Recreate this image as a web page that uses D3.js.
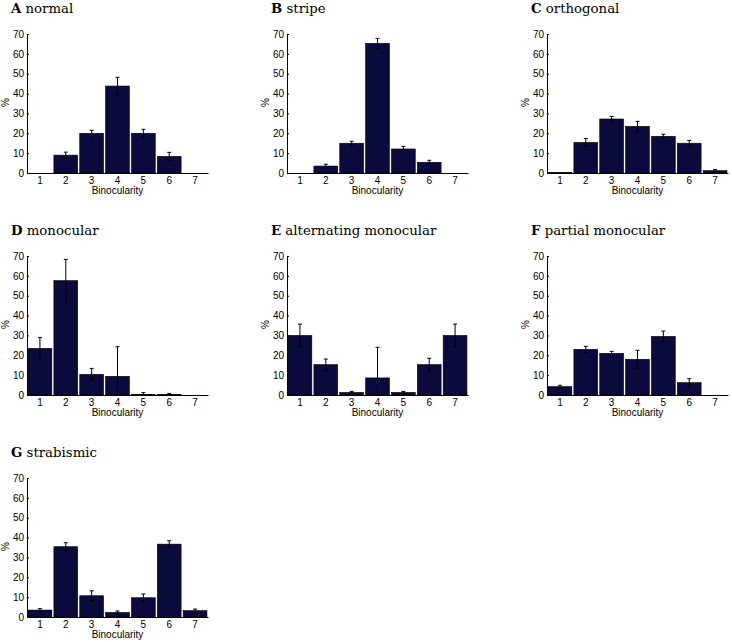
<!DOCTYPE html>
<html><head><meta charset="utf-8">
<script src="https://cdn.jsdelivr.net/npm/d3@7/dist/d3.min.js"></script>
<style>body{margin:0;background:#fff}svg{display:block}</style>
</head><body><svg id="c" width="732" height="642"></svg>
<script>
const categories = [1,2,3,4,5,6,7];
const yTicks = [0,10,20,30,40,50,60,70];
const panelLetters = ["A","B","C","D","E","F","G"];
const panelNames = ["normal","stripe","orthogonal","monocular","alternating monocular","partial monocular","strabismic"];
const valuesA = [0, 9, 20, 43.8, 20, 8.4, 0];
const errorsA = [0, 1.5, 1.5, 4.4, 2, 2, 0];
const valuesB = [0, 3.5, 15, 65.3, 12.1, 5.4, 0];
const errorsB = [0, 0.9, 1, 2.5, 1.3, 1, 0];
const valuesC = [0.2, 15.4, 27.2, 23.5, 18.5, 15, 1.2];
const errorsC = [0, 2, 1.3, 2.5, 1, 1.4, 0.5];
const valuesD = [23.5, 57.6, 10.4, 9.4, 0.3, 0.2, 0];
const errorsD = [5.4, 10.7, 3, 14.9, 0.9, 0.5, 0];
const valuesE = [30, 15.3, 1.3, 8.6, 1.3, 15.3, 30];
const errorsE = [5.7, 2.8, 0.5, 15.4, 0.5, 3.2, 5.7];
const valuesF = [4.2, 23, 21, 18, 29.5, 6.2, 0];
const errorsF = [0.7, 1.5, 1, 4.5, 2.7, 2, 0];
const valuesG = [3.5, 35.4, 10.7, 2.3, 9.7, 36.7, 3.2];
const errorsG = [0.7, 2, 2.5, 0.7, 1.9, 1.7, 0.8];
const allValues = [valuesA,valuesB,valuesC,valuesD,valuesE,valuesF,valuesG];
const allErrors = [errorsA,errorsB,errorsC,errorsD,errorsE,errorsF,errorsG];

const svg = d3.select("#c");
const W = 181, H = 139;
const sans = "'Liberation Sans', Arial, sans-serif";
const serif = "'DejaVu Serif', serif";
const barColor = "#0a0a3c";

panelNames.forEach((name, i) => {
  const col = i % 3, row = Math.floor(i / 3);
  const ox = 27 + col * 260, oy = 34 + row * 222;
  const g = svg.append("g").attr("transform", `translate(${ox},${oy})`);
  const x = d3.scaleBand().domain(categories).range([0, W]).paddingInner(0.08).paddingOuter(0.04);
  const y = d3.scaleLinear().domain([0, 70]).range([H, 0]);
  const vals = allValues[i], errs = allErrors[i];
  const data = categories.map((c, k) => ({c, v: vals[k], e: errs[k]}));

  g.selectAll("rect.bar").data(data).enter().append("rect")
    .attr("x", d => x(d.c)).attr("width", x.bandwidth())
    .attr("y", d => y(d.v)).attr("height", d => y(0) - y(d.v))
    .attr("fill", barColor).attr("stroke", "#000").attr("stroke-width", 0.6);

  const eb = g.selectAll("g.eb").data(data.filter(d => d.e > 0)).enter().append("g");
  const cx = d => x(d.c) + x.bandwidth() / 2;
  eb.append("line").attr("x1", cx).attr("x2", cx)
    .attr("y1", d => y(Math.max(0, d.v - d.e))).attr("y2", d => y(d.v + d.e))
    .attr("stroke", "#000").attr("stroke-width", 1);
  eb.append("line").attr("x1", d => cx(d) - 2).attr("x2", d => cx(d) + 2)
    .attr("y1", d => y(d.v + d.e)).attr("y2", d => y(d.v + d.e))
    .attr("stroke", "#000").attr("stroke-width", 1);
  eb.append("line").attr("x1", d => cx(d) - 2).attr("x2", d => cx(d) + 2)
    .attr("y1", d => y(Math.max(0, d.v - d.e))).attr("y2", d => y(Math.max(0, d.v - d.e)))
    .attr("stroke", "#000").attr("stroke-width", 1);

  const ya = g.append("g").call(d3.axisLeft(y).tickValues(yTicks).tickSizeInner(-2).tickSizeOuter(0).tickPadding(3));
  ya.select(".domain").attr("stroke", "#000").attr("stroke-width", 1);
  ya.selectAll(".tick line").attr("stroke", "#000");
  ya.selectAll("text").attr("font-family", sans).attr("font-size", 10).attr("fill", "#000");

  const xa = g.append("g").attr("transform", `translate(0,${H})`)
    .call(d3.axisBottom(x).tickSizeInner(0).tickSizeOuter(0).tickPadding(4));
  xa.select(".domain").attr("stroke", "#000").attr("stroke-width", 1);
  xa.selectAll("text").attr("font-family", sans).attr("font-size", 10).attr("fill", "#000");

  g.append("text").attr("x", W / 2).attr("y", H + 21).attr("text-anchor", "middle")
    .attr("font-family", sans).attr("font-size", 10).text("Binocularity");
  g.append("text").attr("transform", `translate(-18,${H/2 - 1}) rotate(-90)`).attr("text-anchor", "middle")
    .attr("font-family", sans).attr("font-size", 10).text("%");

  const t = g.append("text").attr("x", -16).attr("y", -21)
    .attr("font-family", serif).attr("font-size", 13.3).attr("fill", "#000");
  t.append("tspan").attr("font-weight", "bold").text(panelLetters[i]);
  t.append("tspan").text(" " + name);
});
</script></body></html>
